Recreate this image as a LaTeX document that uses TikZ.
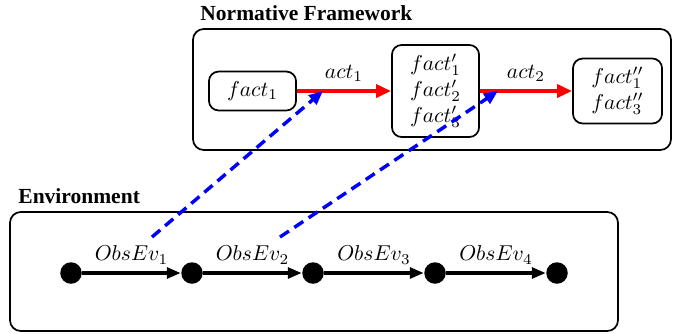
\documentclass[tikz,border=0pt]{standalone}
\usepackage{fontspec}
\newfontfamily\titlefont{Liberation Serif}
\usetikzlibrary{arrows.meta}
\begin{document}
\begin{tikzpicture}[x=0.465pt,y=-0.465pt,
  box/.style={draw, rounded corners=4.5pt, line width=0.8pt, align=center, inner sep=0pt},
  frame/.style={draw, rounded corners=5pt, line width=0.8pt},
  title/.style={font=\titlefont\bfseries, anchor=base west, inner sep=0pt},
  dot/.style={circle, fill=black, minimum size=10pt, inner sep=0pt},
  act/.style={red, line width=1.8pt, -{Triangle[length=7pt,width=6pt]}},
  obs/.style={black, line width=1.6pt, -{Triangle[length=6.5pt,width=5pt]}},
  link/.style={blue, line width=1.6pt, dash pattern=on 5pt off 3pt, -{Triangle[length=6.5pt,width=5.5pt]}}
]
\useasboundingbox (0,0) rectangle (673,333);
% frames
\draw[frame] (193,29) rectangle (671,150);
\node[title] (nf) at (200,20) {Normative Framework};
\draw[frame] (10,212) rectangle (618,331);
\node[title] (env) at (18,203) {Environment};
% normative nodes
\node[box, minimum width=40.5pt, minimum height=18.1pt] (f1) at (252.5,91) {$fact_1$};
\node[box, minimum width=40.5pt, minimum height=42.8pt] (f2) at (435.5,91) {$fact'_1$\\$fact'_2$\\$fact'_3$};
\node[box, minimum width=41.4pt, minimum height=30.2pt] (f3) at (617.5,91) {$fact''_1$\\$fact''_3$};
\draw[act] (f1) -- node[above, text=black] {$act_1$} (f2);
\draw[act] (f2) -- node[above, text=black] {$act_2$} (f3);
% environment
\node[dot] (d1) at (71,273) {};
\node[dot] (d2) at (192,273) {};
\node[dot] (d3) at (313,273) {};
\node[dot] (d4) at (435,273) {};
\node[dot] (d5) at (557,273) {};
\draw[obs] (d1) -- node[above] {$ObsEv_1$} (d2);
\draw[obs] (d2) -- node[above] {$ObsEv_2$} (d3);
\draw[obs] (d3) -- node[above] {$ObsEv_3$} (d4);
\draw[obs] (d4) -- node[above] {$ObsEv_4$} (d5);
% links
\coordinate (s1) at (152,237);
\coordinate (t1) at (323,91);
\coordinate (s2) at (280,237);
\coordinate (t2) at (498,91);
\draw[link] (s1) -- (t1);
\draw[link] (s2) -- (t2);
\end{tikzpicture}
\end{document}
